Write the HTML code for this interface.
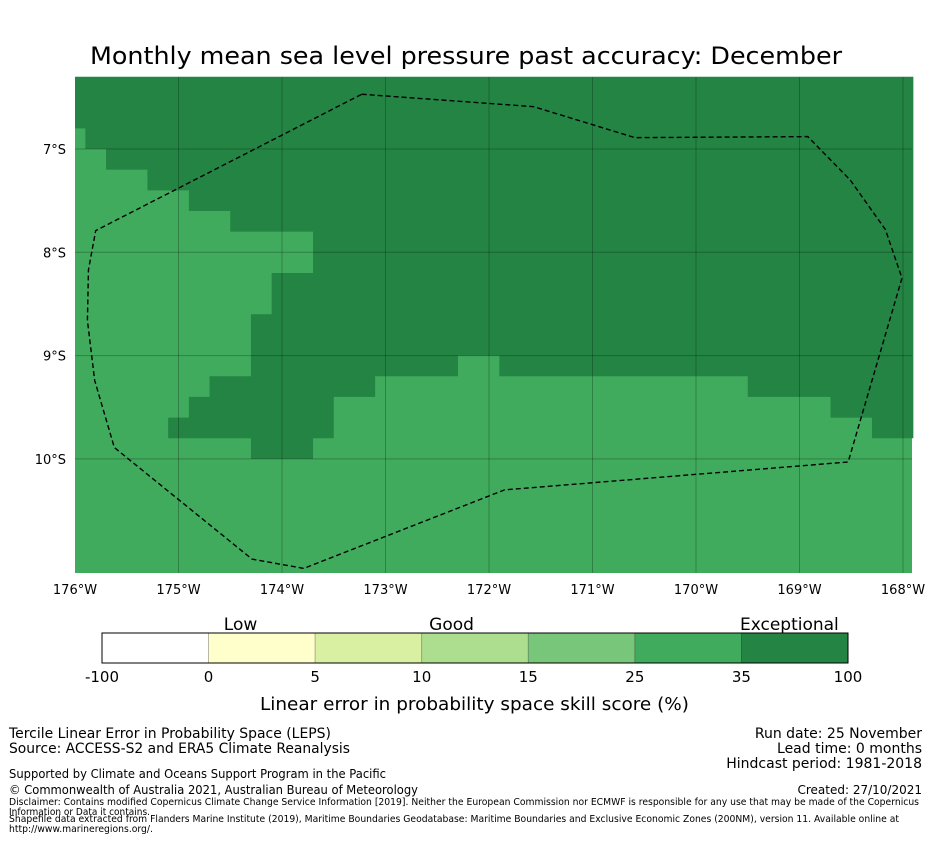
<!DOCTYPE html>
<html><head><meta charset="utf-8"><style>
body{margin:0;background:#fff;font-family:"Liberation Sans","DejaVu Sans",sans-serif;}
svg text{font-family:"DejaVu Sans","Liberation Sans",sans-serif;}
</style></head><body>
<svg id="c" width="931" height="839" viewBox="0 0 931 839" xmlns="http://www.w3.org/2000/svg">
<text x="90" y="64" font-size="24" textLength="752" lengthAdjust="spacingAndGlyphs">Monthly mean sea level pressure past accuracy: December</text>
<g id="map"></g>
<g id="cb"></g>
<text x="260" y="710" font-size="18" textLength="429" lengthAdjust="spacingAndGlyphs">Linear error in probability space skill score (%)</text>
<g font-size="14">
<text x="9" y="738" textLength="322" lengthAdjust="spacingAndGlyphs">Tercile Linear Error in Probability Space (LEPS)</text>
<text x="9" y="753" textLength="341" lengthAdjust="spacingAndGlyphs">Source: ACCESS-S2 and ERA5 Climate Reanalysis</text>
<text x="9" y="778" font-size="12" textLength="377" lengthAdjust="spacingAndGlyphs">Supported by Climate and Oceans Support Program in the Pacific</text>
<text x="9" y="794" font-size="12" textLength="409" lengthAdjust="spacingAndGlyphs">© Commonwealth of Australia 2021, Australian Bureau of Meteorology</text>
<text x="9" y="805" font-size="9.5" textLength="910" lengthAdjust="spacingAndGlyphs">Disclaimer: Contains modified Copernicus Climate Change Service Information [2019]. Neither the European Commission nor ECMWF is responsible for any use that may be made of the Copernicus</text>
<text x="9" y="815" font-size="9.5" textLength="141" lengthAdjust="spacingAndGlyphs">Information or Data it contains.</text>
<text x="9" y="822" font-size="9.5" textLength="890" lengthAdjust="spacingAndGlyphs">Shapefile data extracted from Flanders Marine Institute (2019), Maritime Boundaries Geodatabase: Maritime Boundaries and Exclusive Economic Zones (200NM), version 11. Available online at</text>
<text x="9" y="832" font-size="9.5" textLength="144" lengthAdjust="spacingAndGlyphs">http://www.marineregions.org/.</text>
</g>
<g font-size="14" text-anchor="end">
<text x="922" y="738">Run date: 25 November</text>
<text x="922" y="753">Lead time: 0 months</text>
<text x="922" y="768">Hindcast period: 1981-2018</text>
<text x="922" y="794" font-size="12">Created: 27/10/2021</text>
</g>
</svg>
<script>
const lonTicks=[-176,-175,-174,-173,-172,-171,-170,-169,-168];
const latTicks=[-7,-8,-9,-10];
const darkRegion=[[-176,-6.3],[-176,-6.8],[-175.9,-6.8],[-175.9,-7.0],[-175.7,-7.0],[-175.7,-7.2],[-175.3,-7.2],[-175.3,-7.4],[-174.9,-7.4],[-174.9,-7.6],[-174.5,-7.6],[-174.5,-7.8],[-173.7,-7.8],[-173.7,-8.2],[-174.1,-8.2],[-174.1,-8.6],[-174.3,-8.6],[-174.3,-9.2],[-174.7,-9.2],[-174.7,-9.4],[-174.9,-9.4],[-174.9,-9.6],[-175.1,-9.6],[-175.1,-9.8],[-174.3,-9.8],[-174.3,-10.0],[-173.7,-10.0],[-173.7,-9.8],[-173.5,-9.8],[-173.5,-9.4],[-173.1,-9.4],[-173.1,-9.2],[-172.3,-9.2],[-172.3,-9.0],[-171.9,-9.0],[-171.9,-9.2],[-169.5,-9.2],[-169.5,-9.4],[-168.7,-9.4],[-168.7,-9.6],[-168.3,-9.6],[-168.3,-9.8],[-167.9,-9.8],[-167.9,-6.3]];
const eez=[[-173.23,-6.47],[-171.57,-6.59],[-170.59,-6.89],[-168.92,-6.88],[-168.51,-7.30],[-168.17,-7.78],[-168.01,-8.25],[-168.53,-10.03],[-171.85,-10.30],[-173.79,-11.06],[-174.29,-10.97],[-175.62,-9.89],[-175.81,-9.24],[-175.88,-8.66],[-175.87,-8.17],[-175.80,-7.79]];
const cbLabels=["-100","0","5","10","15","25","35","100"];
const cbColors=["#ffffff","#ffffcc","#d9f0a3","#addd8e","#78c679","#41ab5d","#238443"];
const cbCategories=[["Low",1.3],["Good",3.28],["Exceptional",6.45]];

const NS="http://www.w3.org/2000/svg";
const X=lon=>75+(lon+176)*103.5;
const Y=lat=>149+(-7-lat)*103.3;
function mk(t,a,p){const e=document.createElementNS(NS,t);for(const k in a)e.setAttribute(k,a[k]);p.appendChild(e);return e;}
const map=document.getElementById('map');
const bg=mk('rect',{x:75,y:77,width:837,height:496,fill:'#41ab5d'},map);


const dr=mk('polygon',{points:darkRegion.map(p=>X(p[0])+','+Y(p[1])).join(' '),fill:'#238443'},map);


lonTicks.forEach(l=>{const x=X(l);
 if(x>76&&x<912){const g=mk('line',{x1:x,x2:x,y1:77,y2:573,stroke:'rgba(0,0,0,0.25)','stroke-width':1},map);
 
 }
 const t=mk('text',{x:x,y:594,'text-anchor':'middle','font-size':13},map);t.textContent=Math.abs(l)+'°W';
 
 });
latTicks.forEach(l=>{const y=Y(l);
 const g=mk('line',{x1:75,x2:912,y1:y,y2:y,stroke:'rgba(0,0,0,0.25)','stroke-width':1},map);
 
 
 const t=mk('text',{x:66,y:y+5,'text-anchor':'end','font-size':13},map);t.textContent=Math.abs(l)+'°S';
 
 });
const ez=mk('polygon',{points:eez.map(p=>X(p[0])+','+Y(p[1])).join(' '),fill:'none',stroke:'#000','stroke-width':1.4,'stroke-dasharray':'5,3'},map);


const cb=document.getElementById('cb');
const cx0=102,cx1=848,cw=(cx1-cx0)/cbColors.length;
cbColors.forEach((c,i)=>{const r=mk('rect',{x:cx0+i*cw,y:633,width:cw,height:30,fill:c,stroke:'rgba(0,0,0,0.25)','stroke-width':0.8},cb);
 
 });
mk('rect',{x:cx0,y:633,width:cx1-cx0,height:30,fill:'none',stroke:'#000','stroke-width':1},cb);
cbLabels.forEach((s,i)=>{const t=mk('text',{x:cx0+i*cw,y:682,'text-anchor':'middle','font-size':15},cb);t.textContent=s;
 
 });
cbCategories.forEach(([s,i])=>{const t=mk('text',{x:cx0+i*cw,y:630,'text-anchor':'middle','font-size':17},cb);t.textContent=s;
 
 });
</script>
</body></html>
